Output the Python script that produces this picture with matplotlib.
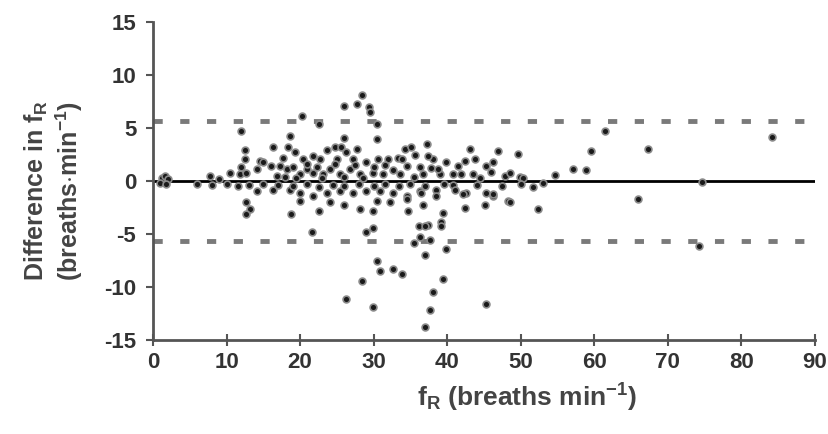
import matplotlib
matplotlib.use("Agg")
import matplotlib.pyplot as plt

# Bland-Altman style data: respiratory rate (x) vs difference (y)
rate = [1.2, 1.6, 2.0, 1.0, 1.8,
        7.7, 9.0, 10.5, 11.8, 12.7, 12.0, 12.0, 12.5, 12.5, 14.5, 16.3, 14.1, 15.0, 16.1, 17.3,
        18.2, 19.1, 20.9, 21.8, 20.0, 23.1, 24.0, 25.4, 26.8, 28.1, 29.9, 31.3, 32.6, 33.6, 36.7,
        39.0, 40.8, 43.5,
        28.4, 25.9, 27.7, 29.3, 29.5, 30.4, 20.2, 22.5, 25.9, 30.4, 18.6, 18.4, 19.3, 17.7, 20.4,
        21.8, 22.7, 23.6, 24.7, 25.6, 26.3, 27.7, 25.0, 27.2, 29.0, 30.6, 32.0, 33.3, 34.2, 35.1,
        37.2, 35.6, 38.1, 34.5, 36.3, 39.9, 41.5, 43.1, 43.8, 42.4, 45.3, 33.8, 37.4, 38.8, 41.9,
        47.8, 49.9, 46.9, 49.6, 46.2, 48.5, 50.3, 54.6, 57.1, 58.9, 59.6, 61.4, 67.3, 84.1,
        21.0, 22.3, 23.0, 24.8, 26.0, 27.5, 28.6, 30.0, 31.5, 19.5, 18.0, 16.8, 35.5, 37.8, 44.5, 46.0,
        14.1, 16.3, 18.6, 20.0, 21.8, 23.6, 25.4, 27.2, 29.0, 30.8, 32.6, 34.5, 36.3, 38.5, 40.8,
        42.6, 45.3, 12.7, 13.2, 12.7, 18.8, 20.0, 22.5, 24.0, 25.9, 28.1, 29.9, 30.4, 32.2, 34.7,
        36.7, 39.4, 42.4, 45.1, 34.5, 36.5, 38.5, 41.0, 46.2, 48.3, 36.1, 37.4, 39.2, 46.2, 42.2,
        48.5, 51.7, 52.4, 66.0, 74.3, 74.6,
        6.0, 8.0, 10.0, 11.5, 13.0, 15.0, 17.0, 19.0, 21.0, 22.5, 24.5, 26.0, 28.0, 30.0, 31.5,
        33.5, 35.0, 37.0, 39.5, 44.0, 47.5, 50.0, 53.0,
        21.6, 29.9, 29.0, 36.3, 37.6, 39.9, 37.0, 30.4, 30.8, 32.6, 33.8, 28.4, 39.4, 38.1, 26.3,
        29.9, 45.3, 37.6, 37.0, 35.5, 39.2, 37.0]
diff = [0.3, 0.5, 0.2, -0.2, -0.3,
        0.5, 0.2, 0.8, 0.7, 0.8, 1.3, 4.7, 2.9, 2.1, 1.9, 3.2, 1.1, 1.8, 1.4, 1.4,
        1.1, 1.3, 1.1, 0.8, 0.7, 0.7, 1.1, 0.7, 1.1, 0.7, 0.8, 0.7, 1.0, 0.7, 0.7,
        0.7, 0.7, 0.7,
        8.1, 7.1, 7.3, 7.0, 6.5, 5.4, 6.1, 5.4, 4.1, 4.0, 4.3, 3.2, 2.7, 2.2, 2.1,
        2.4, 2.1, 2.9, 3.2, 3.2, 2.7, 3.0, 2.1, 2.1, 1.8, 2.1, 2.1, 2.2, 3.0, 3.2,
        3.5, 2.5, 2.1, 1.4, 1.3, 1.8, 1.4, 3.0, 2.1, 1.9, 1.4, 2.1, 2.4, 1.1, 0.7,
        0.5, 0.4, 2.8, 2.6, 1.8, 0.8, 0.3, 0.6, 1.1, 1.0, 2.8, 4.7, 3.0, 4.2,
        1.6, 1.3, 0.3, 1.6, 0.4, 1.5, 0.3, 1.3, 1.5, 0.3, 0.4, 0.5, 0.4, 1.2, 0.3, 0.9,
        -0.9, -0.8, -0.8, -1.1, -1.4, -1.1, -0.9, -1.1, -0.9, -0.9, -1.1, -1.4, -0.9, -0.8, -0.4,
        -1.1, -1.1, -2.0, -2.6, -3.1, -3.1, -1.9, -2.8, -2.0, -2.3, -2.6, -2.8, -1.9, -2.0, -2.8,
        -2.3, -3.0, -2.5, -2.3, -1.7, -1.1, -1.4, -0.8, -1.4, -1.9, -4.2, -4.1, -3.9, -1.2, -1.2,
        -2.0, -0.6, -2.6, -1.7, -6.1, -0.1,
        -0.3, -0.4, -0.3, -0.5, -0.4, -0.3, -0.4, -0.5, -0.3, -0.6, -0.4, -0.5, -0.3, -0.5, -0.3,
        -0.5, -0.3, -0.5, -0.3, -0.4, -0.5, -0.3, -0.2,
        -4.8, -4.4, -4.8, -5.3, -5.6, -6.4, -7.0, -7.5, -8.5, -8.3, -8.8, -9.4, -9.2, -10.5, -11.1,
        -11.9, -11.6, -12.2, -13.8, -5.8, -4.2, -4.2]

bias = 0.0
limits = [5.7, -5.7]
x_ticks = list(range(0, 100, 10))
y_ticks = list(range(-15, 20, 5))

plt.rcParams['font.family'] = ['Liberation Sans', 'DejaVu Sans']
plt.rcParams['font.weight'] = 'bold'
plt.rcParams['axes.unicode_minus'] = False
plt.rcParams['mathtext.fontset'] = 'custom'
plt.rcParams['mathtext.rm'] = 'Liberation Sans:bold'
plt.rcParams['mathtext.bf'] = 'Liberation Sans:bold'
plt.rcParams['mathtext.it'] = 'Liberation Sans:bold'

fig = plt.figure(figsize=(8.29, 4.34), dpi=100)
ax = fig.add_axes([0.1846, 0.2166, 0.7984, 0.7324])

# limits of agreement and bias
for lim in limits:
    ax.axhline(lim, color='#7a7a7a', linewidth=3.5, linestyle=(0, (1.9, 3.6)), zorder=1)
ax.axhline(bias, color='black', linewidth=2, zorder=2)

ax.scatter(rate, diff, s=24, color='#1a1a1a', edgecolors='#8a8a8a', linewidths=1.2, zorder=3)

ax.set_xlim(0, 90)
ax.set_ylim(-15, 15)
ax.set_xticks(x_ticks)
ax.set_yticks(y_ticks)

for side in ['top', 'right']:
    ax.spines[side].set_visible(False)
for side in ['left', 'bottom']:
    ax.spines[side].set_linewidth(2)
    ax.spines[side].set_color('#555555')

ax.tick_params(axis='y', direction='out', length=5, width=1.5, color='#555555',
               labelsize=16, pad=7)
ax.tick_params(axis='x', direction='inout', length=8, width=1.5, color='#555555',
               labelsize=16, pad=5)
for lab in ax.get_xticklabels() + ax.get_yticklabels():
    lab.set_fontweight('bold')
    lab.set_color('#333333')

ax.set_ylabel('Difference in f$_{R}$\n(breaths$\\cdot$min$^{-1}$)', fontsize=18,
              fontweight='bold', color='#444444', linespacing=1.15)
ax.yaxis.set_label_coords(-0.103, 0.47)
ax.set_xlabel('f$_{R}$ (breaths min$^{-1}$)', fontsize=19, fontweight='bold', color='#444444')
ax.xaxis.set_label_coords(0.565, -0.13)

fig.savefig('out.png', dpi=100)
